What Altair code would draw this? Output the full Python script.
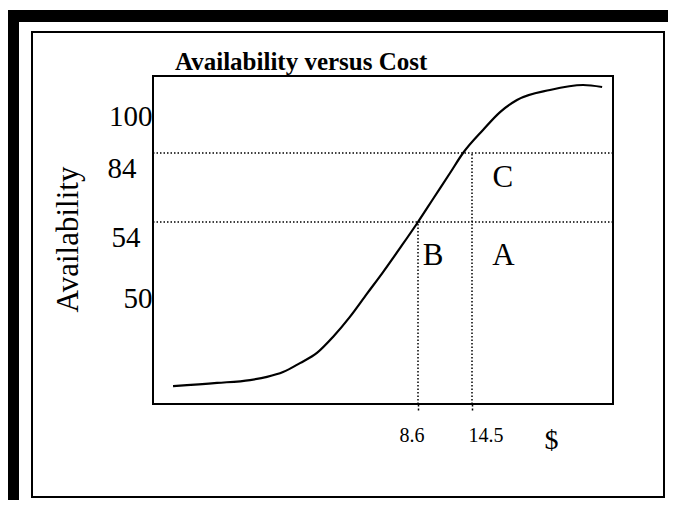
import altair as alt
import pandas as pd

# ---- data ----
cost = [0.65, 2.08, 3.15, 3.70, 4.22, 4.77, 5.32, 5.84, 6.39, 6.94, 7.46, 8.02,
        8.6, 10.24, 12.10, 13.52, 15.32, 16.59, 17.85, 20.31, 22.77, 24.19]
availability = [7.4, 8.7, 9.9, 11.2, 13.2, 16.9, 21.1, 27.7, 36.0, 45.5, 50.7, 52.3,
                54.0, 64.0, 75.3, 84.0, 91.1, 96.6, 100.4, 104.4, 106.4, 105.6]

y_ticks = [100, 84, 54, 50]
x_ticks = [8.6, 14.5]
h_levels = [84, 54]
v_costs = [8.6, 14.5]
v_tops = [54, 84]
regions = ["C", "B", "A"]
region_cost = [16.8, 10.24, 16.85]
region_avail = [73.1, 51.8, 51.8]

FONT = "Liberation Serif"
W, H = 460, 328

curve_df = pd.DataFrame({"cost": cost, "availability": availability})
h_df = pd.DataFrame({"availability": h_levels, "cost": [0] * len(h_levels), "cost_end": [25] * len(h_levels)})
v_df = pd.DataFrame({"cost": v_costs, "availability": [0] * len(v_costs), "avail_end": v_tops})
lab_df = pd.DataFrame({"cost": region_cost, "availability": region_avail, "region": regions})
one = pd.DataFrame({"k": [0]})

xs = alt.Scale(domain=[0, 8.6, 14.5, 25], range=[0, 265, 319, W], nice=False, zero=False)
ys = alt.Scale(domain=[0, 50, 54, 84, 100, 110], range=[H, 207, 146, 77, 25, 0], nice=False, zero=False)

xaxis = alt.Axis(
    values=x_ticks, format=".1f", title="$",
    titleFont=FONT, titleFontSize=28, titleFontWeight="normal", titleColor="black",
    titleX=398, titleY=36, titleAlign="center", titleBaseline="middle",
    labelFont=FONT, labelFontSize=20, labelColor="black", labelBaseline="middle",
    labelPadding=23, labelOffset=alt.ExprRef("datum.value < 10 ? -6.5 : 13.5"),
    ticks=True, tickSize=8, tickDash=[2, 2], tickWidth=1.5, tickColor="black",
    domain=False, grid=False, labelOverlap=False, labelFlush=False,
)
yaxis = alt.Axis(
    values=y_ticks, title="Availability",
    titleFont=FONT, titleFontSize=31, titleFontWeight="normal", titleColor="black",
    titleAngle=270, titleX=-85, titleY=163, titleAlign="center", titleBaseline="middle",
    labelFont=FONT, labelFontSize=29, labelColor="black", labelAlign="right",
    labelBaseline="middle", labelOffset=15,
    labelPadding=alt.ExprRef("datum.value == 84 ? 17 : datum.value == 54 ? 13 : 1"),
    ticks=False, domain=False, grid=False, labelOverlap=False,
)

X = alt.X("cost:Q", scale=xs, axis=xaxis)
Y = alt.Y("availability:Q", scale=ys, axis=yaxis)

# decorative page frame (scanned-figure border)
def band(x1, x2, y1, y2, fill="black"):
    return alt.Chart(one).mark_rect(color=fill, clip=False).encode(
        x=alt.value(x1), x2=alt.value(x2), y=alt.value(y1), y2=alt.value(y2))

frame = (
    band(-145, 515, -66, -54)
    + band(-145, -134, -66, 424)
    + alt.Chart(one).mark_rect(fill=None, stroke="black", strokeWidth=2, clip=False).encode(
        x=alt.value(-121), x2=alt.value(511), y=alt.value(-44), y2=alt.value(421))
)

curve = alt.Chart(curve_df).mark_line(color="black", strokeWidth=2.2, interpolate="monotone").encode(x=X, y=Y)

hrules = alt.Chart(h_df).mark_rule(color="black", strokeWidth=1.5, strokeDash=[1.5, 2]).encode(
    x=X, x2="cost_end:Q", y=Y)
vrules = alt.Chart(v_df).mark_rule(color="black", strokeWidth=1.5, strokeDash=[1.5, 2]).encode(
    x=X, y=Y, y2="avail_end:Q")

letters = alt.Chart(lab_df).mark_text(font=FONT, fontSize=31, color="black",
                                      align="center", baseline="middle").encode(
    x=X, y=Y, text="region:N")

chart = alt.layer(frame, hrules, vrules, curve, letters).properties(
    width=W, height=H,
    title=alt.TitleParams("Availability versus Cost", anchor="start", frame="group",
                          dx=22, offset=0, dy=85, baseline="alphabetic", font=FONT,
                          fontSize=25, fontWeight="bold", color="black"),
    autosize=alt.AutoSizeParams(type="none"),
    padding={"left": 145, "top": 68, "right": 55, "bottom": 96},
    background="white",
).configure_view(stroke="black", strokeWidth=2)

chart.save("out.html", embed_options={"renderer": "svg", "actions": False})
